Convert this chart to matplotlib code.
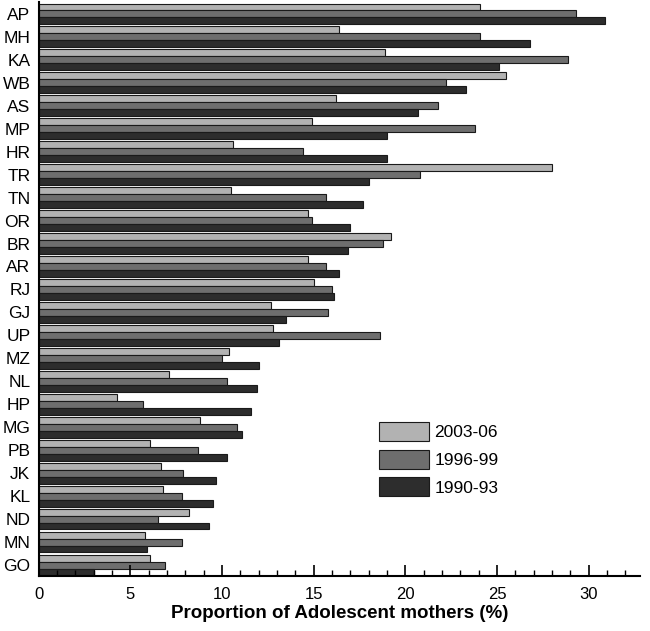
import numpy as np
import matplotlib.pyplot as plt

plt.rcParams['font.family'] = ['Liberation Sans', 'DejaVu Sans']

states = ['AP', 'MH', 'KA', 'WB', 'AS', 'MP', 'HR', 'TR', 'TN', 'OR', 'BR', 'AR', 'RJ',
          'GJ', 'UP', 'MZ', 'NL', 'HP', 'MG', 'PB', 'JK', 'KL', 'ND', 'MN', 'GO']
y2003 = [24.1, 16.4, 18.9, 25.5, 16.2, 14.9, 10.6, 28.0, 10.5, 14.7, 19.2, 14.7, 15.0,
         12.7, 12.8, 10.4, 7.1, 4.3, 8.8, 6.1, 6.7, 6.8, 8.2, 5.8, 6.1]
y1996 = [29.3, 24.1, 28.9, 22.2, 21.8, 23.8, 14.4, 20.8, 15.7, 14.9, 18.8, 15.7, 16.0,
         15.8, 18.6, 10.0, 10.3, 5.7, 10.8, 8.7, 7.9, 7.8, 6.5, 7.8, 6.9]
y1990 = [30.9, 26.8, 25.1, 23.3, 20.7, 19.0, 19.0, 18.0, 17.7, 17.0, 16.9, 16.4, 16.1,
         13.5, 13.1, 12.0, 11.9, 11.6, 11.1, 10.3, 9.7, 9.5, 9.3, 5.9, 3.0]
series = ['2003-06', '1996-99', '1990-93']
colors = ['#b2b2b2', '#6e6e6e', '#2d2d2d']

fig = plt.figure(figsize=(6.5, 6.31), dpi=100)
ax = fig.add_axes([0.0595, 0.087, 0.925, 0.91])

n = len(states)
pos = np.arange(n)[::-1]
h = 0.3
for k, (vals, lab, c) in enumerate(zip([y2003, y1996, y1990], series, colors)):
    ax.barh(pos + h * (1 - k), vals, height=h, color=c, edgecolor='#1a1a1a',
            linewidth=0.8, label=lab)

ax.set_yticks(pos)
ax.set_yticklabels(states, fontsize=12.5)
ax.tick_params(axis='y', length=0, pad=6)
ax.set_ylim(-0.48, n - 0.48)
ax.set_xlim(0, 32.8)
ax.set_xticks(np.arange(0, 31, 5))
ax.set_xticks(np.arange(0, 33, 1), minor=True)
ax.tick_params(axis='x', which='major', direction='in', length=8, width=1.2, labelsize=12, pad=8)
ax.tick_params(axis='x', which='minor', direction='in', length=4, width=1)
for s in ['top', 'right']:
    ax.spines[s].set_visible(False)
ax.spines['left'].set_linewidth(1.5)
ax.spines['bottom'].set_linewidth(1.5)
ax.set_xlabel('Proportion of Adolescent mothers (%)', fontsize=13.5, fontweight='bold', labelpad=2)

ax.legend(loc='upper left', bbox_to_anchor=(0.566, 0.268), frameon=False, fontsize=12.5,
          handlelength=2.9, handleheight=1.3, handletextpad=0.3, labelspacing=0.5,
          borderpad=0, borderaxespad=0)

plt.savefig('out.png', dpi=100)
